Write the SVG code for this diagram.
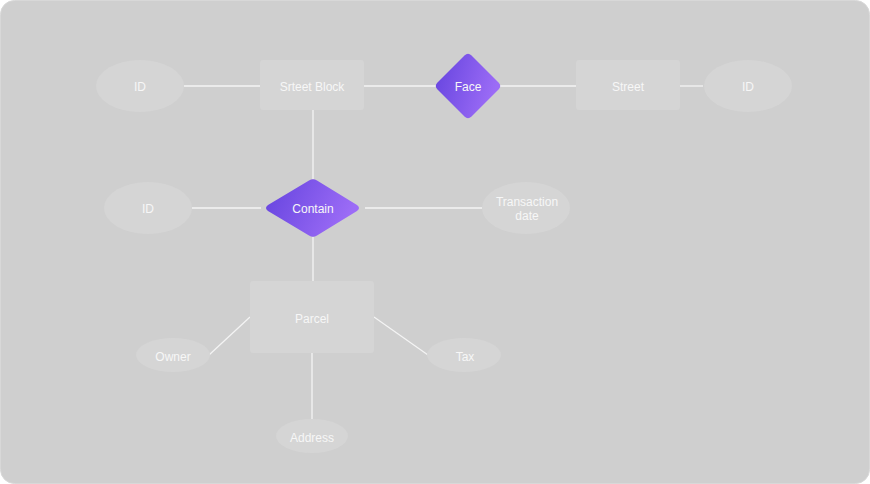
<svg xmlns="http://www.w3.org/2000/svg" width="870" height="484" viewBox="0 0 870 484">
<style>
.ent{fill:#d5d5d5}
.att{fill:#d5d5d5}
.lbl{font-family:"Liberation Sans",Arial,sans-serif;font-size:12px;fill:#f7f7f7;text-anchor:middle;dominant-baseline:central}
.rel{fill:url(#pg)}
.conn line{stroke:#f4f4f4;stroke-width:1.3}
</style>
<defs>
<linearGradient id="pg" x1="0" y1="0" x2="1" y2="0.3">
<stop offset="0" stop-color="#6443de"/>
<stop offset="1" stop-color="#9c6cf6"/>
</linearGradient>
</defs>
<rect x="0.5" y="0.5" width="869" height="483" rx="14" fill="#cfcfcf" stroke="#d8d8d8"/>
<g class="conn">
<line x1="184" y1="86" x2="260" y2="86"/>
<line x1="364" y1="86" x2="436" y2="86"/>
<line x1="500" y1="86" x2="576" y2="86"/>
<line x1="680" y1="86" x2="703" y2="86"/>
<line x1="313" y1="110" x2="313" y2="179"/>
<line x1="192" y1="208" x2="261" y2="208"/>
<line x1="365" y1="208" x2="482" y2="208"/>
<line x1="313" y1="237" x2="313" y2="281"/>
<line x1="209" y1="355" x2="250" y2="317"/>
<line x1="374" y1="317" x2="428" y2="355"/>
<line x1="312" y1="353" x2="312" y2="419"/>
</g>
<g id="id1"><ellipse class="att" cx="140" cy="86" rx="44" ry="26"/><text class="lbl" x="140" y="87">ID</text></g>
<g id="streetblock"><rect class="ent" x="260" y="60" width="104" height="50" rx="3"/><text class="lbl" x="312" y="87">Srteet Block</text></g>
<g id="face"><path class="rel" d="M464.5 55.5 Q468 52 471.5 55.5 L498.5 82.5 Q502 86 498.5 89.5 L471.5 116.5 Q468 120 464.5 116.5 L437.5 89.5 Q434 86 437.5 82.5 Z"/><text class="lbl" x="468" y="87">Face</text></g>
<g id="street"><rect class="ent" x="576" y="60" width="104" height="50" rx="3"/><text class="lbl" x="628" y="87">Street</text></g>
<g id="id2"><ellipse class="att" cx="748" cy="86" rx="44" ry="26"/><text class="lbl" x="748" y="87">ID</text></g>
<g id="id3"><ellipse class="att" cx="148" cy="208" rx="44" ry="26"/><text class="lbl" x="148" y="209">ID</text></g>
<g id="contain"><path class="rel" d="M309 180.5 Q313 178 317 180.5 L357 205 Q361 208 357 211 L317 235.5 Q313 238 309 235.5 L268 211 Q264 208 268 205 Z"/><text class="lbl" x="313" y="209">Contain</text></g>
<g id="tdate"><ellipse class="att" cx="526" cy="208" rx="44" ry="26"/><text class="lbl" x="527" y="202">Transaction</text><text class="lbl" x="527" y="216">date</text></g>
<g id="parcel"><rect class="ent" x="250" y="281" width="124" height="72" rx="3"/><text class="lbl" x="312" y="319">Parcel</text></g>
<g id="owner"><ellipse class="att" cx="173" cy="355" rx="37" ry="17"/><text class="lbl" x="173" y="357">Owner</text></g>
<g id="tax"><ellipse class="att" cx="464" cy="355" rx="37" ry="17"/><text class="lbl" x="465" y="357">Tax</text></g>
<g id="address"><ellipse class="att" cx="312" cy="436" rx="36" ry="17"/><text class="lbl" x="312" y="438">Address</text></g>
</svg>
